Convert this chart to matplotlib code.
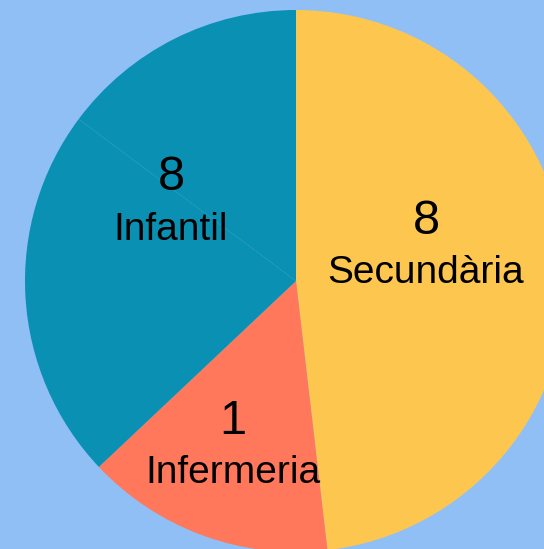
import matplotlib
matplotlib.use("Agg")
import matplotlib.pyplot as plt

# Data
categories = ["Secundària", "Infermeria", "Infantil", ""]
shares = [13, 4, 6, 4]          # angular share of each wedge
shown_values = ["8", "1", "8", None]
colors = ["#fdc64f", "#ff785b", "#0a90b2", "#0a90b2"]
bg = "#90bff5"

W, H = 544, 549
fig = plt.figure(figsize=(W / 100, H / 100), dpi=100, facecolor=bg)
ax = fig.add_axes([0, 0, 1, 1])
ax.set_facecolor(bg)

cx, cy, r = 296, H - 281, 271
ax.pie(shares, colors=colors, startangle=90, counterclock=False,
       center=(cx, cy), radius=r, frame=True,
       wedgeprops=dict(linewidth=0, antialiased=True))
ax.set_xlim(0, W)
ax.set_ylim(0, H)
ax.set_aspect("equal")
ax.axis("off")

# label anchor positions (pixel coords from top-left)
label_pos = [(426, 221), (233, 421), (171, 178), None]
font = "Liberation Sans"
for cat, val, pos in zip(categories, shown_values, label_pos):
    if pos is None:
        continue
    x, y = pos
    ax.text(x, H - y, val, ha="center", va="center", fontsize=35,
            family=font, color="black")
    ax.text(x, H - y - 52, cat, ha="center", va="center", fontsize=28,
            family=font, color="black")

fig.savefig("out.png", dpi=100, facecolor=bg)
